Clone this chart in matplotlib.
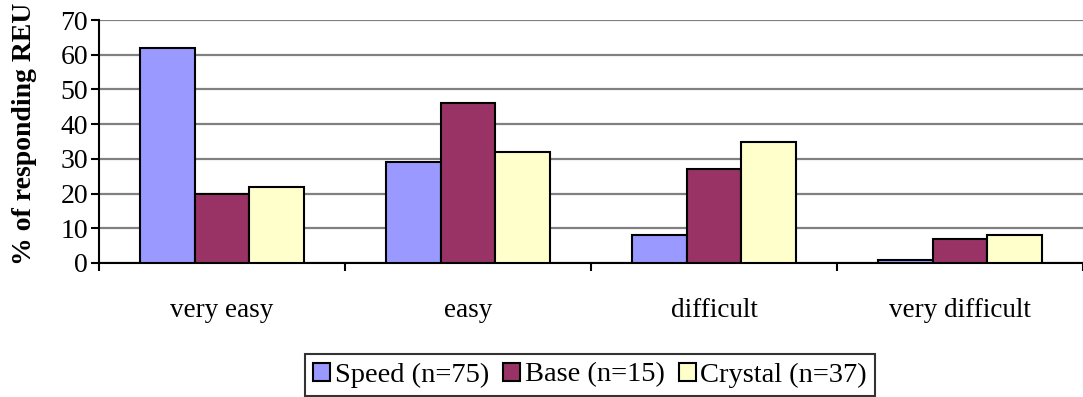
import numpy as np
import matplotlib
matplotlib.use('Agg')
from matplotlib import pyplot as plt
from matplotlib.patches import Patch

categories = ['very easy', 'easy', 'difficult', 'very difficult']
series = ['Speed (n=75)', 'Base (n=15)', 'Crystal (n=37)']
speed = [62, 29, 8, 1]
base = [20, 46, 27, 7]
crystal = [22, 32, 35, 8]
colors = ['#9999FF', '#993366', '#FFFFCC']

plt.rcParams['font.family'] = ['Liberation Serif', 'DejaVu Serif']

fig = plt.figure(figsize=(10.83, 3.97), dpi=100)
ax = fig.add_axes([99 / 1083, 1 - 263 / 397, 1 - 99 / 1083, (263 - 20) / 397])

x = np.arange(len(categories))
w = 0.222
for i, (vals, col) in enumerate(zip([speed, base, crystal], colors)):
    ax.bar(x + (i - 1) * w, vals, w, color=col, edgecolor='black', linewidth=1.5, zorder=3)

ax.set_xlim(-0.5, 3.485)
ax.set_ylim(0, 70)
ax.set_yticks(range(0, 71, 10))
ax.yaxis.grid(True, color='#808080', linewidth=1.6, zorder=0)
ax.set_axisbelow(True)

ax.set_xticks(x)
ax.set_xticklabels(categories, fontsize=19.5)
ax.set_xticks(np.arange(-0.5, 4, 1), minor=True)
ax.tick_params(axis='x', which='major', length=0, pad=25)
ax.tick_params(axis='x', which='minor', length=6, width=1.5, direction='out')
ax.tick_params(axis='y', length=6, width=1.5, labelsize=20, pad=2)

for s in ['top', 'right']:
    ax.spines[s].set_visible(False)
ax.spines['left'].set_linewidth(1.5)
ax.spines['bottom'].set_linewidth(1.5)

ax.set_ylabel('% of responding REU', fontsize=20, fontweight='bold')
ax.yaxis.set_label_coords(-0.063, 0.53)

handles = [Patch(facecolor=c, edgecolor='black', linewidth=1.5) for c in colors]
leg = fig.legend(handles, series, loc='center', bbox_to_anchor=(590 / 1083, 1 - 375 / 397),
                 ncol=3, fontsize=20.5, frameon=True, fancybox=False, edgecolor='black',
                 handlelength=0.6, handleheight=0.6, handletextpad=0.15, columnspacing=0.5,
                 borderpad=0.3, borderaxespad=0)
leg.get_frame().set_linewidth(1.5)

fig.savefig('out.png', dpi=100)
